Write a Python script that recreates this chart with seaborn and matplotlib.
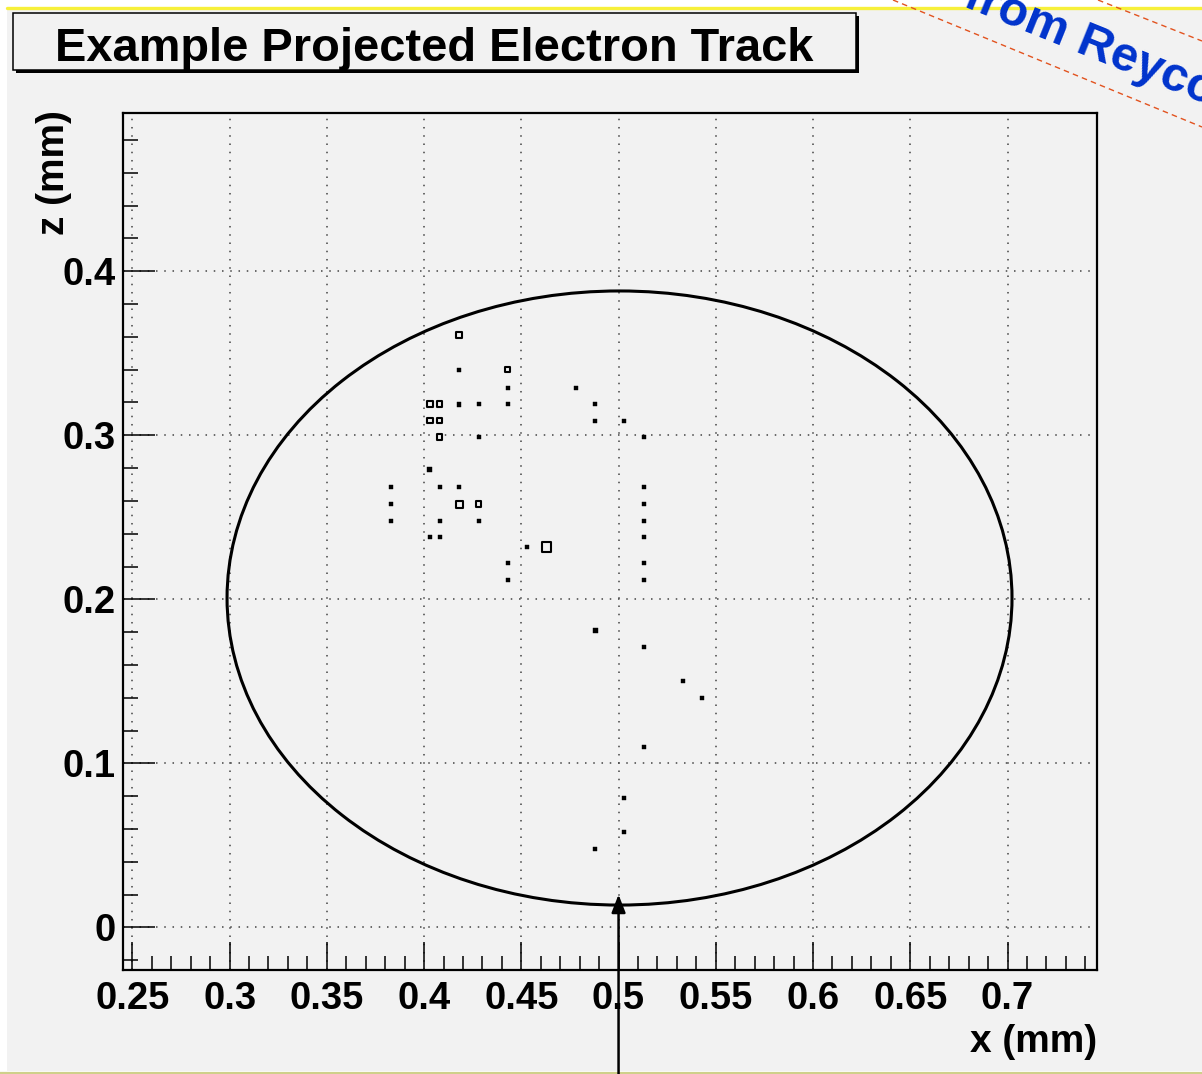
import matplotlib
matplotlib.use("Agg")
import matplotlib.pyplot as plt
from matplotlib.patches import Ellipse, Rectangle
from matplotlib.lines import Line2D
from matplotlib.ticker import MultipleLocator
import numpy as np
import pandas as pd
import seaborn as sns

# ---- data: projected electron track hits (x, z in mm) and hit multiplicity ----
x_mm = [0.418, 0.418, 0.443, 0.443, 0.403, 0.408, 0.418, 0.428, 0.443,
        0.403, 0.408, 0.408, 0.428, 0.403, 0.383, 0.408, 0.418, 0.383,
        0.418, 0.428, 0.383, 0.408, 0.428, 0.403, 0.408,
        0.478, 0.488, 0.488, 0.503, 0.513, 0.513, 0.513, 0.513, 0.513,
        0.513, 0.513, 0.463, 0.453, 0.443, 0.443,
        0.488, 0.513, 0.533, 0.543, 0.513, 0.503, 0.503, 0.488]
z_mm = [0.361, 0.340, 0.340, 0.329, 0.319, 0.319, 0.319, 0.319, 0.319,
        0.309, 0.309, 0.299, 0.299, 0.279, 0.2685, 0.2685, 0.2685, 0.258,
        0.258, 0.258, 0.248, 0.248, 0.248, 0.238, 0.238,
        0.329, 0.319, 0.309, 0.309, 0.299, 0.2685, 0.258, 0.248, 0.238,
        0.222, 0.212, 0.232, 0.232, 0.222, 0.212,
        0.181, 0.171, 0.150, 0.140, 0.110, 0.079, 0.058, 0.048]
hits = [3, 1, 3, 1, 3, 3, 2, 1, 1,
        3, 3, 3, 1, 2, 1, 1, 1, 1,
        4, 3, 1, 1, 1, 1, 1,
        1, 1, 1, 1, 1, 1, 1, 1, 1,
        1, 1, 6, 1, 1, 1,
        2, 1, 1, 1, 1, 1, 1, 1]

# detector acceptance ellipse (centre, full width / height in mm)
ring_center = (0.5005, 0.2008)
ring_width = 0.4036
ring_height = 0.3744
entry_point = (0.5, 0.020)

x_tick_values = [0.25, 0.30, 0.35, 0.40, 0.45, 0.50, 0.55, 0.60, 0.65, 0.70]
x_tick_labels = ["0.25", "0.3", "0.35", "0.4", "0.45", "0.5", "0.55", "0.6", "0.65", "0.7"]
z_tick_values = [0.0, 0.1, 0.2, 0.3, 0.4]
z_tick_labels = ["0", "0.1", "0.2", "0.3", "0.4"]

title_text = "Example Projected Electron Track"
x_label = "x (mm)"
z_label = "z (mm)"
stamp_text = "from Reycor"

# ---- figure setup ----
W, H = 1202, 1074
sns.set_theme(style="white")
plt.rcParams["font.family"] = ["Liberation Sans", "DejaVu Sans"]
plt.rcParams["text.color"] = "black"
plt.rcParams["xtick.color"] = "black"
plt.rcParams["ytick.color"] = "black"

fig = plt.figure(figsize=(W / 100, H / 100), dpi=100, facecolor="white")


def fx(px):
    return px / W


def fy(py):
    return 1 - py / H


bg = "#f2f2f2"
fig.add_artist(Rectangle((fx(7), fy(1071)), 1 - fx(7), fy(9) - fy(1071),
                         transform=fig.transFigure, facecolor=bg, edgecolor="none", zorder=-10))
fig.add_artist(Line2D([fx(7), 1], [fy(8), fy(8)], transform=fig.transFigure,
                      color="#f7f03a", lw=2.4, zorder=-5))
fig.add_artist(Line2D([0, 1], [fy(1072.5), fy(1072.5)], transform=fig.transFigure,
                      color="#cfd08a", lw=1.6, zorder=-5))

ax = fig.add_axes([fx(123), fy(970), fx(1097) - fx(123), fy(113) - fy(970)])
ax.set_facecolor(bg)

# ---- hits: single/double hits as solid dots, larger clusters as open boxes ----
df = pd.DataFrame({"x": x_mm, "z": z_mm, "hits": hits})
small = df[df["hits"] <= 2]
large = df[df["hits"] >= 3]
sns.scatterplot(data=small, x="x", y="z", size="hits", sizes={1: 8.5, 2: 12.0},
                marker="s", color="black", edgecolor="black", linewidth=0.3,
                legend=False, ax=ax, zorder=3)
sns.scatterplot(data=large, x="x", y="z", size="hits",
                sizes={3: 16.0, 4: 26.0, 6: 46.0}, marker="s",
                facecolor="none", edgecolor="black", linewidth=1.5,
                legend=False, ax=ax, zorder=3)

# ---- acceptance ellipse ----
ax.add_patch(Ellipse(ring_center, ring_width, ring_height, fill=False,
                     lw=2.2, edgecolor="black", zorder=4))

# ---- incoming beam arrow ----
ax.annotate("", xy=entry_point, xycoords="data",
            xytext=(entry_point[0], 0.0), textcoords=("data", "figure fraction"),
            arrowprops=dict(arrowstyle="-|>,head_length=0.9,head_width=0.35",
                            lw=1.8, color="black", shrinkA=0, shrinkB=0),
            annotation_clip=False, zorder=5)

# ---- axes ----
ax.set_xlim(0.2452, 0.746)
ax.set_ylim(-0.026, 0.4965)
ax.set_xticks(x_tick_values)
ax.set_xticklabels(x_tick_labels, fontsize=27.5, fontweight="bold", color="black")
ax.set_yticks(z_tick_values)
ax.set_yticklabels(z_tick_labels, fontsize=27.5, fontweight="bold", color="black")
ax.xaxis.set_minor_locator(MultipleLocator(0.01))
ax.yaxis.set_minor_locator(MultipleLocator(0.02))
ax.tick_params(axis="x", which="major", direction="in", length=20, width=1.1,
               bottom=True, top=False, pad=8, colors="black")
ax.tick_params(axis="x", which="minor", direction="in", length=10, width=1.1,
               bottom=True, top=False)
ax.tick_params(axis="y", which="major", direction="in", length=23, width=1.1,
               left=True, right=False, pad=5, colors="black")
ax.tick_params(axis="y", which="minor", direction="in", length=11, width=1.1,
               left=True, right=False)
ax.set_xlabel("")
ax.set_ylabel("")
ax.grid(True, which="major", color="#444444", linestyle=(0, (1, 4.4)), linewidth=1.1)
for s in ax.spines.values():
    s.set_visible(True)
    s.set_color("black")
    s.set_linewidth(1.6)

fig.text(fx(1097), fy(1042), x_label, ha="right", va="center",
         fontsize=28, fontweight="bold", color="black")
fig.text(fx(54), fy(110), z_label, ha="center", va="top", rotation=90,
         fontsize=28, fontweight="bold", color="black")

# ---- title box with drop shadow ----
fig.add_artist(Rectangle((fx(16), fy(73)), fx(859) - fx(16), fy(16) - fy(73),
                         transform=fig.transFigure, facecolor="black",
                         edgecolor="none", zorder=1))
fig.add_artist(Rectangle((fx(13), fy(70)), fx(856) - fx(13), fy(13) - fy(70),
                         transform=fig.transFigure, facecolor=bg,
                         edgecolor="black", lw=1.1, zorder=2))
fig.text(fx(434.5), fy(61), title_text, ha="center", va="baseline",
         fontsize=33.8, fontweight="bold", color="black", zorder=3)

# ---- slide stamp ----
fig.add_artist(Line2D([fx(893), fx(1202)], [fy(0), fy(127)], transform=fig.transFigure,
                      color="#e2531f", lw=1.0, linestyle=(0, (4, 3)), zorder=6))
fig.add_artist(Line2D([fx(1098), fx(1202)], [fy(0), fy(41)], transform=fig.transFigure,
                      color="#e2531f", lw=1.0, linestyle=(0, (4, 3)), zorder=6))
fig.text(fx(962), fy(6), stamp_text, rotation=-22, rotation_mode="anchor",
         ha="left", va="baseline", fontsize=35, fontweight="bold",
         color="#0033cc", zorder=7)

fig.savefig("out.png", dpi=100, facecolor="white")
